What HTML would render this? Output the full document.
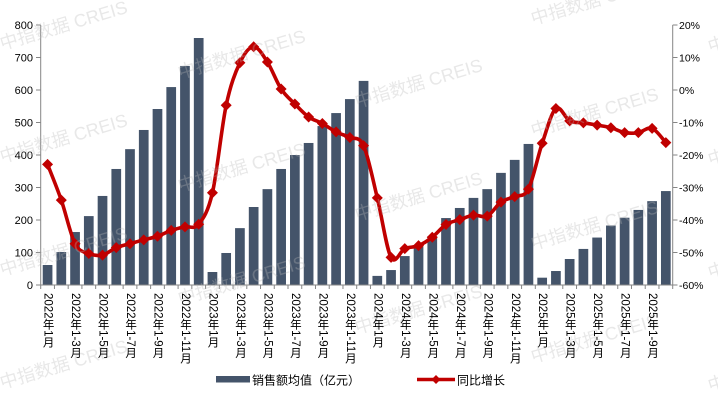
<!DOCTYPE html>
<html><head><meta charset="utf-8">
<style>
html,body{margin:0;padding:0;background:#fff;}
#wrap{position:relative;width:718px;height:400px;overflow:hidden;background:#fff;font-family:"Liberation Sans","Noto Sans CJK SC",sans-serif;}
svg{position:absolute;left:0;top:0;}
.xl{position:absolute;top:293px;width:12px;writing-mode:vertical-rl;text-orientation:mixed;font-size:11.5px;line-height:12px;color:#000;font-family:"Liberation Sans","Noto Sans CJK SC",sans-serif;white-space:nowrap;}
</style></head>
<body><div id="wrap">
<svg id="chart" width="718" height="400" viewBox="0 0 718 400" xmlns="http://www.w3.org/2000/svg">
<g id="bars" fill="#44546A"></g>
<g id="axes" stroke="#868686" stroke-width="1" fill="none">
<line x1="40.7" y1="25" x2="40.7" y2="285"/>
<line x1="672.7" y1="25" x2="672.7" y2="285"/>
<line x1="40.7" y1="285" x2="672.7" y2="285"/>
</g>
<g id="ticks" stroke="#868686" stroke-width="1"></g>
<path id="line" fill="none" stroke="#C00000" stroke-width="3.6" stroke-linejoin="round" stroke-linecap="round"/>
<g id="marks" fill="#C00000"></g>
<g font-family="Liberation Sans, sans-serif" font-size="11" fill="#000" text-anchor="end">
<text x="33" y="289">0</text>
<text x="33" y="256.5">100</text>
<text x="33" y="224">200</text>
<text x="33" y="191.5">300</text>
<text x="33" y="159">400</text>
<text x="33" y="126.5">500</text>
<text x="33" y="94">600</text>
<text x="33" y="61.5">700</text>
<text x="33" y="29">800</text>
</g>
<g font-family="Liberation Sans, sans-serif" font-size="10.5" fill="#000" text-anchor="start">
<text x="679" y="29">20%</text>
<text x="679" y="61.5">10%</text>
<text x="679" y="94">0%</text>
<text x="679" y="126.5">-10%</text>
<text x="679" y="159">-20%</text>
<text x="679" y="191.5">-30%</text>
<text x="679" y="224">-40%</text>
<text x="679" y="256.5">-50%</text>
<text x="679" y="289">-60%</text>
</g>
<rect x="216" y="376" width="34" height="6.5" fill="#44546A"/>
<text x="252" y="384.5" font-family="Liberation Sans, Noto Sans CJK SC, sans-serif" font-size="12" fill="#000">销售额均值（亿元）</text>
<line x1="417" y1="379.5" x2="455" y2="379.5" stroke="#C00000" stroke-width="3.5"/>
<polygon points="436,375 440.5,379.5 436,384 431.5,379.5" fill="#C00000"/>
<text x="457" y="384.5" font-family="Liberation Sans, Noto Sans CJK SC, sans-serif" font-size="12" fill="#000">同比增长</text>
<g font-family="Liberation Sans, Noto Sans CJK SC, sans-serif" font-size="18" fill="#b8b8b8" fill-opacity="0.32">
<text transform="translate(2,50) rotate(-16.5)">中指数据 CREIS</text>
<text transform="translate(2,163) rotate(-16.5)">中指数据 CREIS</text>
<text transform="translate(2,276) rotate(-16.5)">中指数据 CREIS</text>
<text transform="translate(2,389) rotate(-16.5)">中指数据 CREIS</text>
<text transform="translate(180,79) rotate(-16.5)">中指数据 CREIS</text>
<text transform="translate(180,192) rotate(-16.5)">中指数据 CREIS</text>
<text transform="translate(180,305) rotate(-16.5)">中指数据 CREIS</text>
<text transform="translate(357,108) rotate(-16.5)">中指数据 CREIS</text>
<text transform="translate(357,221) rotate(-16.5)">中指数据 CREIS</text>
<text transform="translate(357,334) rotate(-16.5)">中指数据 CREIS</text>
<text transform="translate(533,25) rotate(-16.5)">中指数据 CREIS</text>
<text transform="translate(533,137) rotate(-16.5)">中指数据 CREIS</text>
<text transform="translate(533,250) rotate(-16.5)">中指数据 CREIS</text>
<text transform="translate(533,363) rotate(-16.5)">中指数据 CREIS</text>
<text transform="translate(710,53) rotate(-16.5)">中指数据 CREIS</text>
<text transform="translate(710,166) rotate(-16.5)">中指数据 CREIS</text>
<text transform="translate(710,279) rotate(-16.5)">中指数据 CREIS</text>
<text transform="translate(710,392) rotate(-16.5)">中指数据 CREIS</text>
</g>
</svg>
<div class="xl" style="left:41.6px">2022年1月</div>
<div class="xl" style="left:69.1px">2022年1-3月</div>
<div class="xl" style="left:96.6px">2022年1-5月</div>
<div class="xl" style="left:124.1px">2022年1-7月</div>
<div class="xl" style="left:151.5px">2022年1-9月</div>
<div class="xl" style="left:179.0px">2022年1-11月</div>
<div class="xl" style="left:206.5px">2023年1月</div>
<div class="xl" style="left:234.0px">2023年1-3月</div>
<div class="xl" style="left:261.4px">2023年1-5月</div>
<div class="xl" style="left:288.9px">2023年1-7月</div>
<div class="xl" style="left:316.4px">2023年1-9月</div>
<div class="xl" style="left:343.9px">2023年1-11月</div>
<div class="xl" style="left:371.4px">2024年1月</div>
<div class="xl" style="left:398.8px">2024年1-3月</div>
<div class="xl" style="left:426.3px">2024年1-5月</div>
<div class="xl" style="left:453.8px">2024年1-7月</div>
<div class="xl" style="left:481.3px">2024年1-9月</div>
<div class="xl" style="left:508.8px">2024年1-11月</div>
<div class="xl" style="left:536.2px">2025年1月</div>
<div class="xl" style="left:563.7px">2025年1-3月</div>
<div class="xl" style="left:591.2px">2025年1-5月</div>
<div class="xl" style="left:618.7px">2025年1-7月</div>
<div class="xl" style="left:646.1px">2025年1-9月</div>
</div>
<script>
(function(){
var NS="http://www.w3.org/2000/svg";
var bars=[61.5,101.5,163,212,274,357,418,477,541.5,609,674,760,
40,98.5,175,240,295,357,400,437,489,529,572,628,
28,46,89,118,150,206,237,268,295,345,385,434,
22.5,43,80,111,146,183,207,231,258,289];
var pct=[-22.9,-33.9,-47.3,-50.3,-50.8,-48.5,-47.3,-46.1,-45.0,-43.2,-42.1,-41.3,
-31.6,-4.7,8.4,13.3,8.6,0.3,-4.3,-8.3,-10.3,-12.9,-14.6,-17.1,
-33.2,-51.5,-48.8,-47.9,-45.3,-41.4,-39.9,-38.5,-38.8,-34.5,-32.8,-30.5,
-16.4,-5.7,-9.5,-10.1,-10.8,-11.6,-13.1,-13.1,-11.8,-16.2];
var x0=40.7,x1=672.7,n=46,cw=(x1-x0)/n,bw=9.7;
function yv(v){return 285-v*0.325;}
function yp(p){return 25+(20-p)*3.25;}
var gb=document.getElementById("bars");
var gt=document.getElementById("ticks");
var gm=document.getElementById("marks");
var pts=[];
for(var i=0;i<n;i++){
  var cx=x0+cw*(i+0.5);
  var r=document.createElementNS(NS,"rect");
  r.setAttribute("x",(cx-bw/2).toFixed(2));
  r.setAttribute("y",yv(bars[i]).toFixed(2));
  r.setAttribute("width",bw);
  r.setAttribute("height",(bars[i]*0.325).toFixed(2));
  gb.appendChild(r);
  pts.push([cx,yp(pct[i])]);
}
for(var i=0;i<=n;i++){
  var tx=x0+cw*i;
  var l=document.createElementNS(NS,"line");
  l.setAttribute("x1",tx);l.setAttribute("x2",tx);
  l.setAttribute("y1",285);l.setAttribute("y2",289);
  gt.appendChild(l);
}
for(var k=0;k<=8;k++){
  var ty=25+k*32.5;
  var a=document.createElementNS(NS,"line");
  a.setAttribute("x1",36);a.setAttribute("x2",40.7);a.setAttribute("y1",ty);a.setAttribute("y2",ty);
  gt.appendChild(a);
  var b=document.createElementNS(NS,"line");
  b.setAttribute("x1",672.7);b.setAttribute("x2",677.5);b.setAttribute("y1",ty);b.setAttribute("y2",ty);
  gt.appendChild(b);
}
var d="M"+pts[0][0].toFixed(2)+","+pts[0][1].toFixed(2);
for(var i=0;i<n-1;i++){
  var p0=pts[i>0?i-1:i],p1=pts[i],p2=pts[i+1],p3=pts[i+2<n?i+2:i+1];
  var t=6;
  var c1x=p1[0]+(p2[0]-p0[0])/t,c1y=p1[1]+(p2[1]-p0[1])/t;
  var c2x=p2[0]-(p3[0]-p1[0])/t,c2y=p2[1]-(p3[1]-p1[1])/t;
  d+=" C"+c1x.toFixed(2)+","+c1y.toFixed(2)+" "+c2x.toFixed(2)+","+c2y.toFixed(2)+" "+p2[0].toFixed(2)+","+p2[1].toFixed(2);
}
document.getElementById("line").setAttribute("d",d);
var s=5.5;
for(var i=0;i<n;i++){
  var x=pts[i][0],y=pts[i][1];
  var pg=document.createElementNS(NS,"polygon");
  pg.setAttribute("points",x+","+(y-s)+" "+(x+s)+","+y+" "+x+","+(y+s)+" "+(x-s)+","+y);
  gm.appendChild(pg);
}
})();
</script>
</body></html>
